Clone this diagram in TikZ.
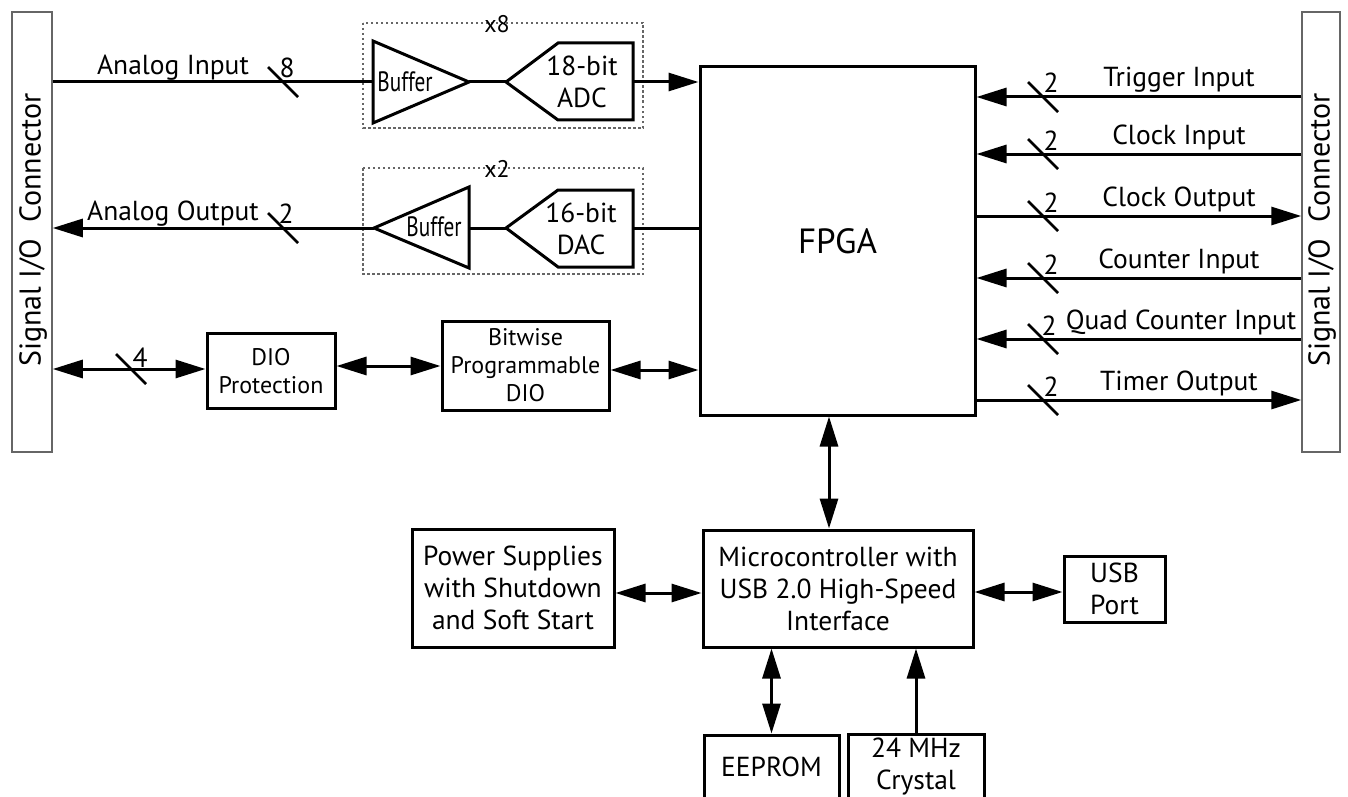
\documentclass[tikz,border=0pt]{standalone}
\usepackage{fontspec}
\setmainfont{PT Sans}
\usetikzlibrary{arrows.meta}
\tikzset{block/.style = {draw, line width=3pt, align=center, inner sep=0pt}}
\tikzset{conn/.style = {draw=black!60, line width=1.5pt}}
\tikzset{connlabel/.style = {rotate=90, font=\fontsize{30}{36}\selectfont}}
\tikzset{wire/.style = {line width=3pt}}
\tikzset{edge/.style = {wire, -{Triangle[length=30pt,width=18pt]}}}
\tikzset{bidir/.style = {wire, {Triangle[length=30pt,width=18pt]}-{Triangle[length=30pt,width=18pt]}}}
\tikzset{slash/.style = {line width=2.5pt}}
\tikzset{group/.style = {draw=black!60, line width=1.3pt, dash pattern=on 2.5pt off 2.5pt}}
\tikzset{small/.style = {font=\fontsize{24}{28}\selectfont}}
\tikzset{amp/.style = {font=\fontsize{28}{32}\selectfont}}

\begin{document}
\begin{tikzpicture}[x=1pt, y=-1pt, font=\fontsize{27.5}{32}\selectfont]
		\useasboundingbox (0,0) rectangle (1348,797);

		% connectors
		\node[conn, minimum width=40pt, minimum height=440pt] (lcon) at (32,232) {};
		\node[conn, minimum width=38pt, minimum height=440pt] (rcon) at (1321,232) {};
		\node[connlabel] (lconlbl) at (33,230) {Signal I/O\ \ Connector};
		\node[connlabel] (rconlbl) at (1322,230) {Signal I/O\ \ Connector};

		% analog input chain
		\draw[group] (363,23) rectangle (643,128);
		\node[small] (xeight) at (497,24) {x8};
		\draw[wire] (373,41) -- (469,82) -- (373,123) -- cycle;
		\coordinate (bufain) at (373,82);
		\coordinate (bufaout) at (469,82);
		\node[amp] (bufa) at (405,82) {\scalebox{0.76}[1]{Buffer}};
		\draw[wire] (506,82) -- (558,43) -- (633,43) -- (633,120) -- (558,120) -- cycle;
		\coordinate (adcin) at (506,82);
		\coordinate (adcout) at (633,82);
		\node[align=center] (adc) at (582,82) {18-bit\\ADC};

		% analog output chain
		\draw[group] (363,168) rectangle (643,274);
		\node[small] (xtwo) at (497,169) {x2};
		\draw[wire] (374,228) -- (469,187) -- (469,268) -- cycle;
		\coordinate (bufbin) at (469,228);
		\coordinate (bufbout) at (374,228);
		\node[amp] (bufb) at (434,227) {\scalebox{0.76}[1]{Buffer}};
		\draw[wire] (506,228) -- (558,190) -- (633,190) -- (633,267) -- (558,267) -- cycle;
		\coordinate (dacin) at (633,228);
		\coordinate (dacout) at (506,228);
		\node[align=center] (dac) at (581,229) {16-bit\\DAC};

		% blocks
		\node[block, minimum width=275pt, minimum height=348pt, font=\fontsize{35}{40}\selectfont] (fpga) at (837.5,241) {FPGA};
		\node[block, small, minimum width=128pt, minimum height=75pt] (dioprot) at (271,371) {DIO\\Protection};
		\node[block, small, minimum width=167pt, minimum height=89pt] (dio) at (525.5,365.5) {Bitwise\\Programmable\\DIO};
		\node[block, minimum width=270pt, minimum height=117pt] (micro) at (838,588.5) {Microcontroller with\\USB 2.0 High-Speed\\Interface};
		\node[block, minimum width=202pt, minimum height=118pt] (power) at (513,588) {Power Supplies\\with Shutdown\\and Soft Start};
		\node[block, minimum width=101pt, minimum height=66pt] (usb) at (1114.5,589) {USB\\Port};
		\node[block, minimum width=135pt, minimum height=64pt] (eeprom) at (771.5,767) {EEPROM};
		\node[block, minimum width=136pt, minimum height=66pt] (xtal) at (916,767) {24 MHz\\Crystal};

		% left edges
		\draw[wire] (lcon.east |- bufain) -- (bufain);
		\draw[wire] (bufaout) -- (adcin);
		\draw[edge] (adcout) -- (fpga.west |- adcout);
		\draw[wire] (fpga.west |- dacin) -- (dacin);
		\draw[wire] (dacout) -- (bufbin);
		\draw[edge] (bufbout) -- (lcon.east |- bufbout);
		\draw[bidir] (lcon.east |- 0,369) -- (dioprot.west |- 0,369);
		\draw[bidir] (dioprot.east |- 0,366) -- (dio.west |- 0,366);
		\draw[bidir] (dio.east |- 0,370) -- (fpga.west |- 0,370);

		\node[anchor=base] (ailbl) at (173,75) {Analog Input};
		\draw[slash] (268,67) -- (298,97);
		\node[anchor=base] (ainum) at (287,78) {8};
		\node[anchor=base] (aolbl) at (173,220) {Analog Output};
		\draw[slash] (268,213) -- (298,243);
		\node[anchor=base] (aonum) at (286,223) {2};
		\draw[slash] (116,354) -- (146,384);
		\node[anchor=base] (dionum) at (140,367) {4};

		% right edges
		\draw[edge] (rcon.west |- 0,97) -- (fpga.east |- 0,97);
		\draw[slash] (1028,82) -- (1058,112);
		\node[anchor=base] (trignum) at (1051,93) {2};
		\node[anchor=base] (triglbl) at (1179,87) {Trigger Input};

		\draw[edge] (rcon.west |- 0,154) -- (fpga.east |- 0,154);
		\draw[slash] (1028,139) -- (1058,169);
		\node[anchor=base] (clkinnum) at (1051,150) {2};
		\node[anchor=base] (clkinlbl) at (1179,144) {Clock Input};

		\draw[edge] (fpga.east |- 0,216) -- (rcon.west |- 0,216);
		\draw[slash] (1028,201) -- (1058,231);
		\node[anchor=base] (clkoutnum) at (1051,212) {2};
		\node[anchor=base] (clkoutlbl) at (1179,206) {Clock Output};

		\draw[edge] (rcon.west |- 0,278) -- (fpga.east |- 0,278);
		\draw[slash] (1028,263) -- (1058,293);
		\node[anchor=base] (cntnum) at (1051,274) {2};
		\node[anchor=base] (cntlbl) at (1179,268) {Counter Input};

		\draw[edge] (rcon.west |- 0,339) -- (fpga.east |- 0,339);
		\draw[slash] (1028,324) -- (1058,354);
		\node[anchor=base] (quadnum) at (1049,335) {2};
		\node[anchor=base] (quadlbl) at (1181,329) {Quad Counter Input};

		\draw[edge] (fpga.east |- 0,400) -- (rcon.west |- 0,400);
		\draw[slash] (1028,385) -- (1058,415);
		\node[anchor=base] (tmrnum) at (1051,396) {2};
		\node[anchor=base] (tmrlbl) at (1179,390) {Timer Output};

		% bottom edges
		\draw[bidir] (829,0 |- fpga.south) -- (829,0 |- micro.north);
		\draw[bidir] (power.east |- 0,593) -- (micro.west |- 0,593);
		\draw[bidir] (micro.east |- 0,592) -- (usb.west |- 0,592);
		\draw[bidir] (micro.south -| eeprom.north) -- (eeprom.north);
		\draw[edge] (xtal.north) -- (micro.south -| xtal.north);
	\end{tikzpicture}
\end{document}
